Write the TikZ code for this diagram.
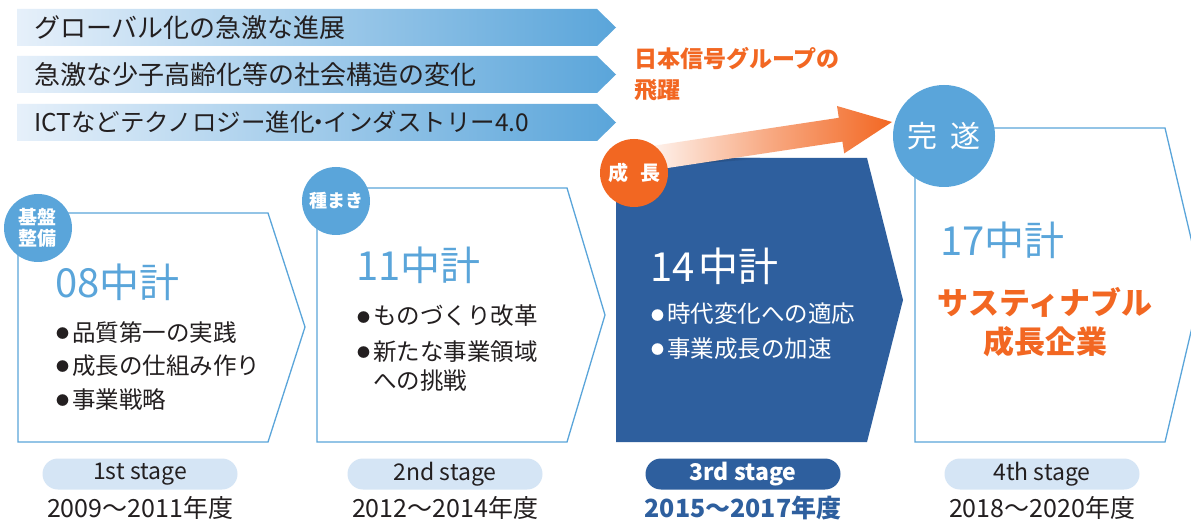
\documentclass[tikz,border=0pt]{standalone}
\usepackage{fontspec}
\setmainfont{Noto Sans CJK JP}
\usetikzlibrary{shapes.geometric,shapes.misc}
\definecolor{lb}{HTML}{5AA5DA}
\definecolor{db}{HTML}{2E5F9E}
\definecolor{og}{HTML}{F26722}
\definecolor{pillc}{HTML}{D5E5F5}
\definecolor{txt}{HTML}{231F20}
\definecolor{bstart}{HTML}{E6F0FA}
\definecolor{shadowc}{HTML}{1E3E66}
\newcommand{\fs}[1]{\fontsize{#1}{#1}\selectfont}
\newcommand{\bul}{\makebox[16pt][l]{\raisebox{0.12em}{\fs{13}●}}}
\tikzset{
  bannertext/.style={anchor=west, text=txt, font=\fs{26}, inner sep=0pt},
  boxline/.style={draw=lb, line width=1.3pt, line join=miter},
  badge/.style={circle, fill=lb, text=white, font=\fs{19}\bfseries, inner sep=0pt, align=center},
  plan/.style={anchor=west, font=\fs{40}, inner sep=0pt},
  bullets/.style={anchor=north west, font=\fs{23.5}, text=txt, align=left, inner sep=0pt},
  pill/.style={rounded rectangle, fill=pillc, minimum width=195pt, minimum height=31pt, text=txt, font=\fs{23}, inner sep=0pt},
  years/.style={text=txt, font=\fs{25}, inner sep=0pt},
}
\begin{document}
\begin{tikzpicture}[x=1pt,y=-1pt]
\useasboundingbox (0,0) rectangle (1191,521);
\clip (0,0) rectangle (1191,521);
\fill[white] (0,0) rectangle (1191,521);
% banners
\shade[left color=bstart, right color=lb] (17,9) -- (597,9) -- (616,27.5) -- (597,46) -- (17,46) -- cycle;
\shade[left color=bstart, right color=lb] (17,56) -- (597,56) -- (616,74.5) -- (597,93) -- (17,93) -- cycle;
\shade[left color=bstart, right color=lb] (17,104) -- (597,104) -- (616,122.5) -- (597,141) -- (17,141) -- cycle;
\node[bannertext] (b1) at (34,27.5) {グローバル化の急激な進展};
\node[bannertext] (b2) at (34,74.5) {急激な少子高齢化等の社会構造の変化};
\node[bannertext, font=\fs{24.5}] (b3) at (34,122.5) {ICTなどテクノロジー進化\hspace{-0.32em}・\hspace{-0.32em}インダストリー4.0};
% leap text
\node[anchor=north west, text=og, font=\fs{23}\bfseries, align=left, inner sep=0pt] (leap) at (634,47) {日本信号グループの\\[8pt]飛躍};
% boxes
\draw[boxline] (18,213) -- (268,213) -- (305,327) -- (268,442) -- (18,442) -- cycle;
\draw[boxline] (317,188) -- (567,188) -- (605,315) -- (567,442) -- (317,442) -- cycle;
\fill[db] (616,158) -- (867,158) -- (903,300) -- (867,442) -- (616,442) -- cycle;
\draw[boxline] (915,128) -- (1165,128) -- (1202,285) -- (1165,442) -- (915,442) -- cycle;
% shadow of arrow on box 3
\shade[left color=shadowc, right color=db] (660,158) -- (760,158) -- (760,159) -- (660,166) -- cycle;
% orange arrow
\shade[left color=og!3, right color=og, middle color=og!55] (641.8,171.9) -- (638.2,148.1) -- (838.8,117.8) -- (837.0,106.0) -- (892,122) -- (844.2,153.4) -- (842.4,141.6) -- cycle;
% badges
\node[badge, minimum size=68pt] (c1) at (38,228) {基盤\\[2pt]整備};
\node[badge, minimum size=68pt, font=\fs{18}\bfseries] (c2) at (336,201) {種まき};
\node[badge, minimum size=68pt, fill=og, font=\fs{20}\bfseries] (c3) at (634,173) {成\hspace{0.6em}長};
\node[badge, minimum size=102pt, font=\fs{30}] (c4) at (944,136) {完\hspace{0.45em}遂};
% box contents
\node[plan, text=lb] (p1) at (55,282) {08中計};
\node[bullets] (l1) at (56,321) {\bul 品質第一の実践\\[10pt]\bul 成長の仕組み作り\\[10pt]\bul 事業戦略};
\node[plan, text=lb] (p2) at (356,265) {11中計};
\node[bullets] (l2) at (357,305) {\bul ものづくり改革\\[12pt]\bul 新たな事業領域\\[6pt]\hspace{16pt}への挑戦};
\node[plan, text=white] (p3) at (650,266) {14\hspace{4pt}中計};
\node[bullets, text=white] (l3) at (651,303) {\bul 時代変化への適応\\[11pt]\bul 事業成長の加速};
\node[plan, text=lb] (p4) at (940,240) {17中計};
\node[text=og, font=\fs{31}\bfseries, align=center, inner sep=0pt] (goal) at (1045,322) {サスティナブル\\[8pt]成長企業};
% stages
\node[pill] (s1) at (140,474) {1st stage};
\node[pill] (s2) at (445,474) {2nd stage};
\node[pill, fill=db, text=white, font=\fs{23}\bfseries] (s3) at (743,474) {3rd stage};
\node[pill] (s4) at (1042,474) {4th stage};
\node[years] (y1) at (140,508) {2009～2011年度};
\node[years] (y2) at (445,508) {2012～2014年度};
\node[years, text=db, font=\fs{25}\bfseries] (y3) at (743,508) {2015～2017年度};
\node[years] (y4) at (1042,508) {2018～2020年度};
\end{tikzpicture}
\end{document}
